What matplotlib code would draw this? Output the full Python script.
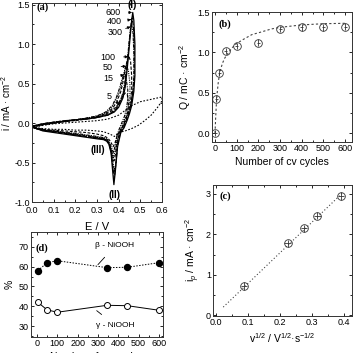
import matplotlib
matplotlib.use("Agg")
import matplotlib.pyplot as plt
from matplotlib.ticker import MultipleLocator, AutoMinorLocator

plt.rcParams['font.family'] = ['Liberation Sans', 'DejaVu Sans']
plt.rcParams['font.size'] = 7
plt.rcParams['mathtext.fontset'] = 'custom'
plt.rcParams['mathtext.rm'] = 'Liberation Sans'
plt.rcParams['mathtext.it'] = 'Liberation Sans:italic'

# ---------------- panel (a): CV curves (E in V, i in mA cm^-2) -------------
cv_600_E = [0.00, 0.05, 0.10, 0.15, 0.20, 0.25, 0.30, 0.35, 0.38, 0.40, 0.42, 0.43, 0.44, 0.45, 0.46, 0.465,
            0.470, 0.475, 0.475, 0.470, 0.460, 0.450, 0.440, 0.425, 0.410, 0.395, 0.385, 0.378, 0.372, 0.365,
            0.355, 0.345, 0.33, 0.30, 0.25, 0.20, 0.15, 0.10, 0.05, 0.02, 0.00]
cv_600_i = [-0.04, -0.01, 0.01, 0.02, 0.04, 0.05, 0.07, 0.10, 0.14, 0.20, 0.32, 0.45, 0.70, 1.00, 1.30, 1.40,
            1.30, 1.00, 0.60, 0.40, 0.22, 0.12, 0.04, -0.06, -0.12, -0.30, -0.60, -0.78, -0.60, -0.38,
            -0.27, -0.23, -0.21, -0.20, -0.18, -0.16, -0.14, -0.12, -0.10, -0.07, -0.05]

cv_400_E = [0.00, 0.05, 0.10, 0.15, 0.20, 0.25, 0.30, 0.35, 0.38, 0.40, 0.42, 0.43, 0.44, 0.45, 0.457, 0.462,
            0.468, 0.472, 0.472, 0.466, 0.456, 0.446, 0.436, 0.422, 0.408, 0.395, 0.386, 0.380, 0.373, 0.365,
            0.355, 0.345, 0.33, 0.30, 0.25, 0.20, 0.15, 0.10, 0.05, 0.02, 0.00]
cv_400_i = [-0.04, -0.01, 0.01, 0.03, 0.04, 0.05, 0.07, 0.10, 0.15, 0.22, 0.35, 0.50, 0.75, 1.05, 1.25, 1.33,
            1.22, 0.95, 0.60, 0.40, 0.22, 0.12, 0.04, -0.06, -0.12, -0.28, -0.55, -0.70, -0.55, -0.36,
            -0.26, -0.22, -0.20, -0.19, -0.17, -0.15, -0.13, -0.11, -0.09, -0.07, -0.05]

cv_300_E = [0.00, 0.05, 0.10, 0.15, 0.20, 0.25, 0.30, 0.35, 0.38, 0.40, 0.42, 0.43, 0.44, 0.45, 0.455, 0.460,
            0.466, 0.470, 0.470, 0.464, 0.454, 0.444, 0.434, 0.420, 0.406, 0.394, 0.387, 0.381, 0.374, 0.365,
            0.355, 0.345, 0.33, 0.30, 0.25, 0.20, 0.15, 0.10, 0.05, 0.02, 0.00]
cv_300_i = [-0.04, -0.01, 0.01, 0.03, 0.04, 0.06, 0.08, 0.11, 0.16, 0.24, 0.38, 0.55, 0.80, 1.08, 1.20, 1.25,
            1.15, 0.90, 0.58, 0.38, 0.21, 0.11, 0.03, -0.06, -0.12, -0.26, -0.50, -0.62, -0.50, -0.34,
            -0.25, -0.21, -0.19, -0.18, -0.16, -0.14, -0.12, -0.10, -0.09, -0.07, -0.05]

cv_100_E = [0.00, 0.05, 0.10, 0.15, 0.20, 0.25, 0.30, 0.34, 0.37, 0.39, 0.41, 0.42, 0.43, 0.44, 0.447,
            0.455, 0.460, 0.460, 0.455, 0.445, 0.435, 0.420, 0.405, 0.393, 0.385, 0.378, 0.368,
            0.355, 0.34, 0.30, 0.25, 0.20, 0.15, 0.10, 0.05, 0.02, 0.00]
cv_100_i = [-0.05, -0.02, 0.00, 0.02, 0.04, 0.06, 0.08, 0.12, 0.18, 0.26, 0.40, 0.52, 0.68, 0.80, 0.85,
            0.78, 0.60, 0.42, 0.28, 0.15, 0.06, -0.04, -0.12, -0.24, -0.40, -0.48, -0.36,
            -0.25, -0.21, -0.19, -0.17, -0.15, -0.13, -0.11, -0.09, -0.07, -0.05]

cv_50_E = [0.00, 0.05, 0.10, 0.15, 0.20, 0.25, 0.30, 0.34, 0.37, 0.39, 0.41, 0.42, 0.43, 0.437,
           0.445, 0.452, 0.452, 0.446, 0.436, 0.425, 0.412, 0.400, 0.390, 0.382, 0.375, 0.365,
           0.352, 0.34, 0.30, 0.25, 0.20, 0.15, 0.10, 0.05, 0.02, 0.00]
cv_50_i = [-0.05, -0.02, 0.00, 0.02, 0.04, 0.06, 0.09, 0.13, 0.20, 0.30, 0.45, 0.58, 0.70, 0.74,
           0.66, 0.50, 0.35, 0.22, 0.11, 0.03, -0.06, -0.13, -0.24, -0.38, -0.44, -0.33,
           -0.24, -0.21, -0.18, -0.16, -0.14, -0.12, -0.11, -0.09, -0.07, -0.05]

cv_15_E = [0.00, 0.05, 0.10, 0.15, 0.20, 0.25, 0.30, 0.34, 0.37, 0.39, 0.405, 0.415, 0.425,
           0.435, 0.442, 0.442, 0.436, 0.426, 0.414, 0.402, 0.392, 0.384, 0.376, 0.366,
           0.352, 0.34, 0.30, 0.25, 0.20, 0.15, 0.10, 0.05, 0.02, 0.00]
cv_15_i = [-0.05, -0.02, 0.00, 0.02, 0.04, 0.06, 0.09, 0.14, 0.22, 0.33, 0.45, 0.55, 0.62,
           0.55, 0.42, 0.30, 0.18, 0.08, 0.00, -0.08, -0.16, -0.28, -0.38, -0.30,
           -0.22, -0.19, -0.17, -0.15, -0.13, -0.12, -0.10, -0.08, -0.07, -0.05]

cv_5_E = [0.00, 0.05, 0.10, 0.15, 0.20, 0.25, 0.30, 0.34, 0.37, 0.39, 0.405, 0.418, 0.430,
          0.440, 0.445, 0.442, 0.432, 0.420, 0.405, 0.392, 0.382, 0.374, 0.364,
          0.35, 0.33, 0.30, 0.25, 0.20, 0.15, 0.10, 0.05, 0.02, 0.00]
cv_5_i = [-0.05, -0.02, 0.00, 0.02, 0.03, 0.05, 0.07, 0.11, 0.16, 0.21, 0.27, 0.34, 0.38,
          0.36, 0.25, 0.14, 0.05, -0.03, -0.10, -0.17, -0.26, -0.30, -0.24,
          -0.19, -0.16, -0.14, -0.12, -0.11, -0.10, -0.09, -0.08, -0.06, -0.05]

cv_1_E = [0.00, 0.05, 0.10, 0.15, 0.20, 0.25, 0.30, 0.35, 0.40, 0.43, 0.46, 0.50, 0.55, 0.60,
          0.60, 0.58, 0.55, 0.52, 0.49, 0.46, 0.43, 0.40, 0.38, 0.36, 0.33, 0.30, 0.25,
          0.20, 0.15, 0.10, 0.05, 0.02, 0.00]
cv_1_i = [-0.06, -0.03, -0.01, 0.00, 0.01, 0.02, 0.03, 0.05, 0.10, 0.16, 0.22, 0.27, 0.30, 0.33,
          0.28, 0.20, 0.10, 0.03, -0.03, -0.07, -0.10, -0.12, -0.17, -0.14, -0.11, -0.10, -0.09,
          -0.09, -0.08, -0.08, -0.07, -0.06, -0.06]

cycle_labels = ['600', '400', '300', '100', '50', '15', '5']
label_pos = [(0.373, 1.40), (0.380, 1.28), (0.385, 1.15), (0.350, 0.83), (0.350, 0.70), (0.350, 0.57), (0.355, 0.33)]
arrow_tip = [(0.462, 1.40), (0.457, 1.31), (0.455, 1.22), (0.444, 0.84), (0.435, 0.72), (0.425, 0.61), (0.405, 0.24)]

# ---------------- panel (b) ----------------
b_cycles = [0, 5, 20, 50, 100, 200, 300, 400, 500, 600]
b_Q = [0.00, 0.42, 0.75, 1.02, 1.08, 1.12, 1.29, 1.31, 1.31, 1.32]
b_fit_x = [0, 3, 6, 10, 15, 20, 28, 35, 45, 60, 80, 100, 130, 170, 210, 260, 300, 400, 500, 600]
b_fit_y = [0.00, 0.20, 0.35, 0.50, 0.63, 0.72, 0.81, 0.87, 0.93, 0.99, 1.06, 1.11, 1.16, 1.22, 1.25, 1.29, 1.31, 1.34, 1.355, 1.36]

# ---------------- panel (c) ----------------
c_v = [0.087, 0.224, 0.275, 0.317, 0.390]
c_ip = [0.72, 1.78, 2.15, 2.46, 2.95]
c_fit_x = [0.023, 0.395]
c_fit_y = [0.20, 3.02]

# ---------------- panel (d) ----------------
d_cycles = [5, 50, 100, 345, 445, 600]
d_beta = [58.0, 62.0, 63.0, 59.5, 59.7, 62.0]
d_gamma = [42.0, 38.2, 37.0, 40.5, 40.3, 38.0]

fig = plt.figure(figsize=(3.58, 3.53), dpi=100)

def style(ax):
    ax.tick_params(direction='in', top=True, right=True, which='both', length=2.5, width=0.6, pad=1.5, labelsize=6.5)
    ax.tick_params(which='minor', length=1.5)
    for s in ax.spines.values():
        s.set_linewidth(0.7)
        s.set_color('#333333')

# (a)
axa = fig.add_axes([32/358, 1-202/353, 130/358, 199/353])
styles = [('-', 0.9), ((0, (4, 1.5)), 0.8), ((0, (3, 1, 1, 1)), 0.8), ((0, (3, 1.5)), 0.8),
          ((0, (1, 1)), 0.8), ((0, (3, 1, 1, 1)), 0.8), ((0, (2.5, 1.5)), 0.8)]
curves = [(cv_600_E, cv_600_i), (cv_400_E, cv_400_i), (cv_300_E, cv_300_i), (cv_100_E, cv_100_i),
          (cv_50_E, cv_50_i), (cv_15_E, cv_15_i), (cv_5_E, cv_5_i)]
for (E, I), (ls, lw) in zip(curves, styles):
    axa.plot(E, I, color='black', ls=ls, lw=lw)
axa.plot(cv_1_E, cv_1_i, color='black', ls=(0, (1.5, 1.5)), lw=0.8)
for lab, p, t in zip(cycle_labels, label_pos, arrow_tip):
    axa.annotate(lab, xy=t, xytext=p, ha='center', va='center', fontsize=6.5,
                 arrowprops=dict(arrowstyle='-|>', lw=0.6, color='black', mutation_scale=4, shrinkA=4, shrinkB=0))
axa.text(0.462, 1.49, '(I)', ha='center', va='center', fontsize=7, fontweight='bold')
axa.text(0.380, -0.91, '(II)', ha='center', va='center', fontsize=7, fontweight='bold')
axa.text(0.306, -0.34, '(III)', ha='center', va='center', fontsize=7, fontweight='bold')
axa.text(0.05, 1.47, '(a)', ha='center', va='center', fontsize=7.5, fontweight='bold', family='Liberation Serif')
axa.set_xlim(0, 0.6)
axa.set_ylim(-1.0, 1.52)
axa.xaxis.set_major_locator(MultipleLocator(0.1))
axa.yaxis.set_major_locator(MultipleLocator(0.5))
axa.xaxis.set_minor_locator(AutoMinorLocator(2))
axa.yaxis.set_minor_locator(AutoMinorLocator(2))
axa.xaxis.set_major_formatter(plt.FuncFormatter(lambda v, p: f'{v:.1f}'))
axa.yaxis.set_major_formatter(plt.FuncFormatter(lambda v, p: f'{v:.1f}'))
axa.set_xlabel('E / V', fontsize=8, labelpad=5)
axa.set_ylabel('i / mA · cm$^{-2}$', fontsize=7, labelpad=1)
style(axa)
axa.tick_params(axis='x', pad=3)

# (b)
axb = fig.add_axes([212/358, 1-142/353, 140/358, 130/353])
axb.plot(b_fit_x, b_fit_y, color='#444444', ls=(0, (2, 2)), lw=0.8)
axb.errorbar(b_cycles, b_Q, yerr=0.04, xerr=7, fmt='o', mfc='none', mec='#333333', ms=5.5, mew=0.6,
             ecolor='#333333', elinewidth=0.6, capsize=0)
axb.text(46, 1.35, '(b)', ha='center', va='center', fontsize=7.5, fontweight='bold', family='Liberation Serif')
axb.set_xlim(-14, 632)
axb.set_ylim(-0.11, 1.5)
axb.xaxis.set_major_locator(MultipleLocator(100))
axb.yaxis.set_major_locator(MultipleLocator(0.5))
axb.xaxis.set_minor_locator(AutoMinorLocator(2))
axb.yaxis.set_minor_locator(AutoMinorLocator(2))
axb.yaxis.set_major_formatter(plt.FuncFormatter(lambda v, p: f'{v:.1f}'))
axb.set_xlabel('Number of cv cycles', fontsize=7.5, labelpad=3)
axb.set_ylabel('Q / mC · cm$^{-2}$', fontsize=7.5, labelpad=3)
style(axb)

# (c)
axc = fig.add_axes([213/358, 1-316/353, 139/358, 131/353])
axc.plot(c_fit_x, c_fit_y, color='#444444', ls=(0, (1, 2)), lw=0.8)
axc.errorbar(c_v, c_ip, yerr=0.09, xerr=0.01, fmt='o', mfc='none', mec='#333333', ms=5.5, mew=0.6,
             ecolor='#333333', elinewidth=0.6, capsize=0)
axc.text(0.028, 2.94, '(c)', ha='center', va='center', fontsize=7.5, fontweight='bold', family='Liberation Serif')
axc.set_xlim(-0.009, 0.425)
axc.set_ylim(-0.02, 3.22)
axc.xaxis.set_major_locator(MultipleLocator(0.1))
axc.yaxis.set_major_locator(MultipleLocator(1))
axc.xaxis.set_minor_locator(AutoMinorLocator(2))
axc.yaxis.set_minor_locator(AutoMinorLocator(2))
axc.xaxis.set_major_formatter(plt.FuncFormatter(lambda v, p: f'{v:.1f}'))
axc.set_xlabel('v$^{1/2}$ / V$^{1/2}$·s$^{-1/2}$', fontsize=7.5, labelpad=3)
axc.set_ylabel('i$_p$ / mA · cm$^{-2}$', fontsize=7.5, labelpad=3)
style(axc)

# (d)
axd = fig.add_axes([31/358, 1-337/353, 132/358, 105/353])
axd.plot(d_cycles, d_beta, color='black', ls=(0, (1.5, 1.5)), lw=0.7, marker='o', ms=4.3, mfc='black', mec='black')
axd.plot(d_cycles, d_gamma, color='black', ls='-', lw=0.7, marker='o', ms=4.3, mfc='white', mec='black', mew=0.7)
axd.annotate('β - NiOOH', xy=(300, 61.0), xytext=(384, 70.5), ha='center', va='center', fontsize=6,
             arrowprops=dict(arrowstyle='-', lw=0.6, color='black', shrinkA=5, shrinkB=0))
axd.annotate('γ - NiOOH', xy=(294, 37.8), xytext=(384, 30.5), ha='center', va='center', fontsize=6,
             arrowprops=dict(arrowstyle='-', lw=0.6, color='black', shrinkA=5, shrinkB=0))
axd.text(23, 69.2, '(d)', ha='center', va='center', fontsize=7.5, fontweight='bold', family='Liberation Serif')
axd.set_xlim(-29, 620)
axd.set_ylim(24.5, 77.5)
axd.xaxis.set_major_locator(MultipleLocator(100))
axd.yaxis.set_major_locator(MultipleLocator(10))
axd.xaxis.set_minor_locator(AutoMinorLocator(2))
axd.yaxis.set_minor_locator(AutoMinorLocator(2))
axd.set_xlabel('Number of cv cycles', fontsize=7.5, labelpad=3)
axd.set_ylabel('%', fontsize=7.5, labelpad=3)
style(axd)

fig.savefig('out.png', dpi=100)
